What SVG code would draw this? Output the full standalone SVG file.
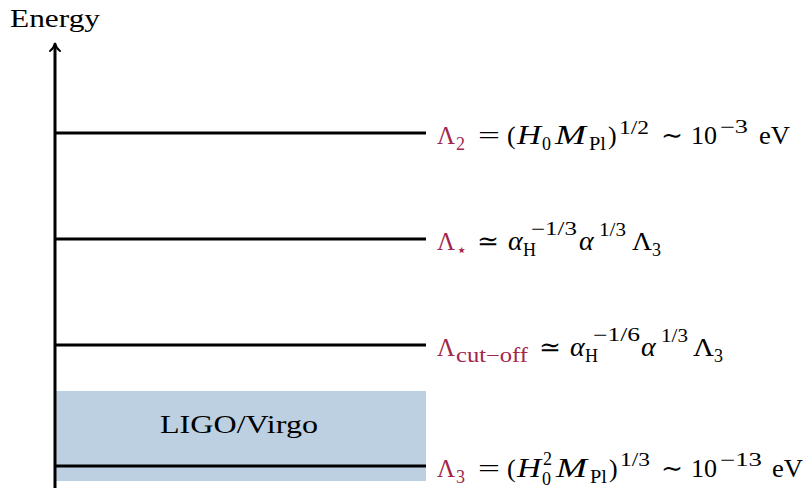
<svg xmlns="http://www.w3.org/2000/svg" width="811" height="488" viewBox="0 0 811 488">
<defs>
<marker id="ah" markerWidth="12" markerHeight="12" refX="6" refY="6" orient="auto" markerUnits="userSpaceOnUse">
<path d="M1,1 Q4,5 9,6 Q4,7 1,11" fill="none" stroke="#000" stroke-width="2" stroke-linecap="round"/>
</marker>
</defs>
<style>
text{font-family:"Liberation Serif","DejaVu Serif",serif;fill:#000;font-size:26px}
.m{fill:#a2264b}
.i{font-style:italic;font-size:28px}
.s{font-size:18px}
.lvl{stroke:#000;stroke-width:3;fill:none}
</style>
<rect id="ligo-box" x="55" y="391" width="371" height="90" fill="#bdd0e1"/>
<g id="connectors">
<line x1="55" y1="488" x2="55" y2="46" stroke="#000" stroke-width="3" marker-end="url(#ah)"/>
<line class="lvl" x1="55" y1="133" x2="426" y2="133"/>
<line class="lvl" x1="55" y1="239" x2="426" y2="239"/>
<line class="lvl" x1="55" y1="345" x2="426" y2="345"/>
<line class="lvl" x1="55" y1="466" x2="426" y2="466"/>
</g>
<g id="axis-label"><text x="10" y="27" font-size="25" textLength="90" lengthAdjust="spacingAndGlyphs">Energy</text></g>
<g id="ligo"><text x="160" y="433" textLength="158" lengthAdjust="spacingAndGlyphs">LIGO/Virgo</text></g>
<g id="lambda2"><text y="144"><tspan class="m" x="437" textLength="18" lengthAdjust="spacingAndGlyphs">Λ</tspan><tspan class="m s" x="456" y="150">2</tspan><tspan x="478" y="144" textLength="22" lengthAdjust="spacingAndGlyphs">=</tspan><tspan x="507">(</tspan><tspan class="i" x="517" textLength="24" lengthAdjust="spacingAndGlyphs">H</tspan><tspan class="s" x="542" y="150">0</tspan><tspan class="i" x="555" y="144" textLength="31" lengthAdjust="spacingAndGlyphs">M</tspan><tspan class="s" x="589" y="150" textLength="17" lengthAdjust="spacingAndGlyphs">Pl</tspan><tspan x="608" y="144">)</tspan><tspan class="s" x="619" y="134" textLength="30" lengthAdjust="spacingAndGlyphs">1/2</tspan><tspan x="661" y="144" textLength="22" lengthAdjust="spacingAndGlyphs">∼</tspan><tspan x="691" textLength="26" lengthAdjust="spacingAndGlyphs">10</tspan><tspan class="s" x="720" y="133" textLength="28" lengthAdjust="spacingAndGlyphs">−3</tspan><tspan x="759" y="144" textLength="31" lengthAdjust="spacingAndGlyphs">eV</tspan></text></g>
<g id="lambda-star"><text y="250"><tspan class="m" x="437" textLength="18" lengthAdjust="spacingAndGlyphs">Λ</tspan><tspan class="m s" x="456" y="256">⋆</tspan><tspan x="477" y="250" textLength="22" lengthAdjust="spacingAndGlyphs">≃</tspan><tspan class="i" x="508">α</tspan><tspan class="s" x="523" y="256">H</tspan><tspan class="s" x="531" y="235" textLength="46" lengthAdjust="spacingAndGlyphs">−1/3</tspan><tspan class="i" x="579" y="250">α</tspan><tspan class="s" x="599" y="236" textLength="27" lengthAdjust="spacingAndGlyphs">1/3</tspan><tspan x="632" y="250" textLength="20" lengthAdjust="spacingAndGlyphs">Λ</tspan><tspan class="s" x="652" y="256">3</tspan></text></g>
<g id="lambda-cutoff"><text y="356"><tspan class="m" x="437" textLength="18" lengthAdjust="spacingAndGlyphs">Λ</tspan><tspan class="m" x="456" y="362" font-size="20" textLength="72" lengthAdjust="spacingAndGlyphs">cut−off</tspan><tspan x="539" y="356" textLength="22" lengthAdjust="spacingAndGlyphs">≃</tspan><tspan class="i" x="570">α</tspan><tspan class="s" x="585" y="362">H</tspan><tspan class="s" x="593" y="341" textLength="47" lengthAdjust="spacingAndGlyphs">−1/6</tspan><tspan class="i" x="641" y="356">α</tspan><tspan class="s" x="661" y="342" textLength="27" lengthAdjust="spacingAndGlyphs">1/3</tspan><tspan x="693" y="356" textLength="21" lengthAdjust="spacingAndGlyphs">Λ</tspan><tspan class="s" x="714" y="362">3</tspan></text></g>
<g id="lambda3"><text y="477"><tspan class="m" x="437" textLength="18" lengthAdjust="spacingAndGlyphs">Λ</tspan><tspan class="m s" x="456" y="483">3</tspan><tspan x="478" y="477" textLength="22" lengthAdjust="spacingAndGlyphs">=</tspan><tspan x="507">(</tspan><tspan class="i" x="517" textLength="24" lengthAdjust="spacingAndGlyphs">H</tspan><tspan class="s" x="543" y="465">2</tspan><tspan class="s" x="542" y="485">0</tspan><tspan class="i" x="556" y="477" textLength="31" lengthAdjust="spacingAndGlyphs">M</tspan><tspan class="s" x="590" y="483" textLength="17" lengthAdjust="spacingAndGlyphs">Pl</tspan><tspan x="609" y="477">)</tspan><tspan class="s" x="620" y="466" textLength="30" lengthAdjust="spacingAndGlyphs">1/3</tspan><tspan x="661" y="477" textLength="22" lengthAdjust="spacingAndGlyphs">∼</tspan><tspan x="691" textLength="26" lengthAdjust="spacingAndGlyphs">10</tspan><tspan class="s" x="720" y="466" textLength="42" lengthAdjust="spacingAndGlyphs">−13</tspan><tspan x="772" y="477" textLength="31" lengthAdjust="spacingAndGlyphs">eV</tspan></text></g>
</svg>
